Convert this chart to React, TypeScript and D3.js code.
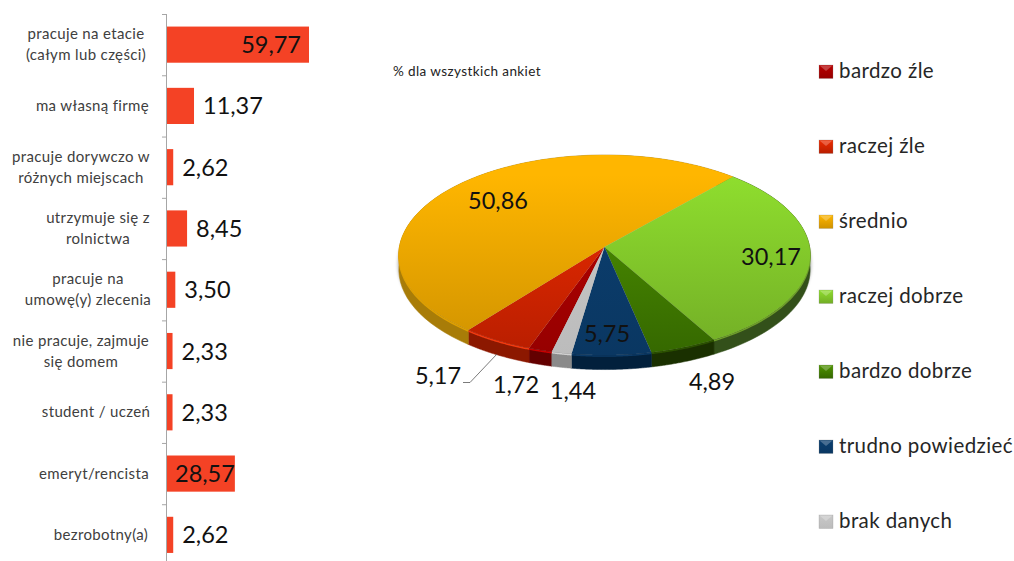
import React from "react";
import * as d3 from "d3";

const barLabels = [
  ["pracuje na etacie", "(całym lub części)"],
  ["ma własną firmę"],
  ["pracuje dorywczo w", "różnych miejscach"],
  ["utrzymuje się z", "rolnictwa"],
  ["pracuje na", "umowę(y) zlecenia"],
  ["nie pracuje, zajmuje", "się domem"],
  ["student / uczeń"],
  ["emeryt/rencista"],
  ["bezrobotny(a)"],
];
const barLabelCenters = [86, 92.5, 81, 98, 88, 81, 96, 94, 101];
const barValues = [59.77, 11.37, 2.62, 8.45, 3.5, 2.33, 2.33, 28.57, 2.62];

const pieNames = ["bardzo źle", "raczej źle", "średnio", "raczej dobrze", "bardzo dobrze", "trudno powiedzieć", "brak danych"];
const pieValues = [1.72, 5.17, 50.86, 30.17, 4.89, 5.75, 1.44];
const pieTop = ["#b80000", "#ee2c00", "#ffb600", "#8fde2e", "#4f9400", "#0b3f70", "#c8c8c8"];
const pieBottom = ["#960000", "#b81e00", "#cf9200", "#72ad26", "#356800", "#0a3762", "#bcbcbc"];
const pieWall = ["#640000", "#8c1800", "#a87c08", "#33501a", "#1a3000", "#02203c", "#8a8a8a"];
const pieRim = ["#c80000", "#f23a10", "#e0a000", "#6f9e2a", "#2c5200", "#0c3a66", "#d0d0d0"];

const fmt = (v: number) => v.toFixed(2).replace(".", ",");
const FONT = "Lato, 'Open Sans', sans-serif";

// plane of the pie under slight perspective: the apex is above the ellipse centre
const CX = 604.5, APEX_Y = 247, A = 205, B = 99.4, K = 0.08, DEPTH = 14.5;

const pieLabelPos = [
  { t: 1.72, x: 516, y: 393 },
  { t: 5.17, x: 438, y: 384 },
  { t: 50.86, x: 498, y: 209 },
  { t: 30.17, x: 771, y: 265 },
  { t: 4.89, x: 712, y: 390 },
  { t: 5.75, x: 607, y: 342 },
  { t: 1.44, x: 573, y: 399 },
];

export default function App() {
  const y = d3.scaleBand<number>().domain(d3.range(barValues.length)).range([14, 565.5]).paddingInner(0.41).paddingOuter(0.205);
  const step = y.step();
  const x = d3.scaleLinear().domain([0, 59.77]).range([167, 309]);

  const start = (193.7 * Math.PI) / 180;
  const arcs = d3.pie<number>().sort(null).startAngle(start).endAngle(start + 2 * Math.PI)(pieValues);

  const pt = (a: number, dy = 0) => {
    const u = Math.sin(a), v = -Math.cos(a), s = 1 / (1 - K * v);
    return [CX + A * u * s, APEX_Y + B * v * s + dy] as [number, number];
  };
  const rimAngles = (a0: number, a1: number) => d3.range(0, 61).map((k) => a0 + ((a1 - a0) * k) / 60);
  const line = d3.line();

  const legendY = d3.scalePoint<number>().domain(d3.range(pieNames.length)).range([71, 521]);

  return (
    <svg width={1014} height={561} style={{ position: "absolute", left: 0, top: 0, background: "#fff" }} fontFamily={FONT}>
      <defs>
        {pieNames.map((_, i) => (
          <linearGradient key={i} id={`top${i}`} gradientUnits="userSpaceOnUse" x1={0} x2={0} y1={175} y2={355}>
            <stop offset="0" stopColor={pieTop[i]} />
            <stop offset="1" stopColor={pieBottom[i]} />
          </linearGradient>
        ))}
        {pieNames.map((_, i) => (
          <linearGradient key={i} id={`leg${i}`} x1={0} x2={0} y1={0} y2={1}>
            <stop offset="0" stopColor={pieTop[i]} />
            <stop offset="1" stopColor={pieBottom[i]} />
          </linearGradient>
        ))}
        <filter id="soft" x="-5%" y="-5%" width="110%" height="115%">
          <feGaussianBlur stdDeviation="1.8" />
        </filter>
      </defs>

      {/* bars */}
      <line x1={166.5} x2={166.5} y1={14} y2={561} stroke="#a6a6a6" />
      {d3.range(barValues.length + 1).map((i) => (
        <line key={i} x1={162} x2={166.5} y1={14.5 + i * step} y2={14.5 + i * step} stroke="#a6a6a6" />
      ))}
      {barValues.map((v, i) => {
        const by = y(i)!;
        const bh = y.bandwidth();
        const lines = barLabels[i];
        const mid = by + bh / 2;
        const inside = v > 20;
        return (
          <g key={i}>
            <rect x={x(0)} y={by} width={x(v) - x(0)} height={bh} fill="#f44225" />
            <text x={inside ? x(v) - (v > 50 ? 8 : 0) : x(v) + 9} y={mid + 8.5} fontSize={23.5} fill="#111" textAnchor={inside ? "end" : "start"}>
              {fmt(v)}
            </text>
            {lines.map((l, j) => (
              <text key={j} x={barLabelCenters[i]} y={mid + 5 + (j - (lines.length - 1) / 2) * 21} fontSize={15} letterSpacing={0.35} fill="#404040" textAnchor="middle">
                {l}
              </text>
            ))}
          </g>
        );
      })}

      <text x={393} y={76} fontSize={13.5} letterSpacing={0.4} fill="#222">% dla wszystkich ankiet</text>

      {/* pie */}
      <ellipse cx={CX} cy={264} rx={207} ry={103} fill="#000" opacity={0.25} filter="url(#soft)" />
      {arcs.map((a, i) => {
        const angs = rimAngles(a.startAngle, a.endAngle);
        const d = (line([...angs.map((t) => pt(t)), ...angs.slice().reverse().map((t) => pt(t, DEPTH))]) as string) + "Z";
        return <path key={i} d={d} fill={pieWall[i]} stroke={pieWall[i]} strokeWidth={0.5} />;
      })}
      {arcs.map((a, i) => {
        const angs = rimAngles(a.startAngle, a.endAngle);
        return <path key={i} d={line(angs.map((t) => pt(t, 1))) as string} fill="none" stroke={pieRim[i]} strokeWidth={1.5} />;
      })}
      {arcs.map((a, i) => {
        const angs = rimAngles(a.startAngle, a.endAngle);
        const d = (line([[CX, APEX_Y], ...angs.map((t) => pt(t))]) as string) + "Z";
        return <path key={i} d={d} fill={`url(#top${i})`} />;
      })}

      <polyline points="463,382.5 470,382.5 497,354" fill="none" stroke="#595959" strokeWidth={0.8} />
      {pieLabelPos.map((p, i) => (
        <text key={i} x={p.x} y={p.y} fontSize={23.5} fill="#111" textAnchor="middle">
          {fmt(p.t)}
        </text>
      ))}

      {/* legend */}
      {pieNames.map((n, i) => {
        const ly = legendY(i)!;
        return (
          <g key={i}>
            <rect x={819} y={ly - 6} width={14} height={13.5} fill={`url(#leg${i})`} stroke="#888" strokeOpacity={0.5} strokeWidth={0.5} />
            <polygon points={`819.5,${ly - 5.5} 832.5,${ly - 5.5} 826,${ly}`} fill="#fff" fillOpacity={0.25} />
            <text x={839} y={ly + 7} fontSize={20.5} letterSpacing={0.4} fill="#262626">
              {n}
            </text>
          </g>
        );
      })}
    </svg>
  );
}
